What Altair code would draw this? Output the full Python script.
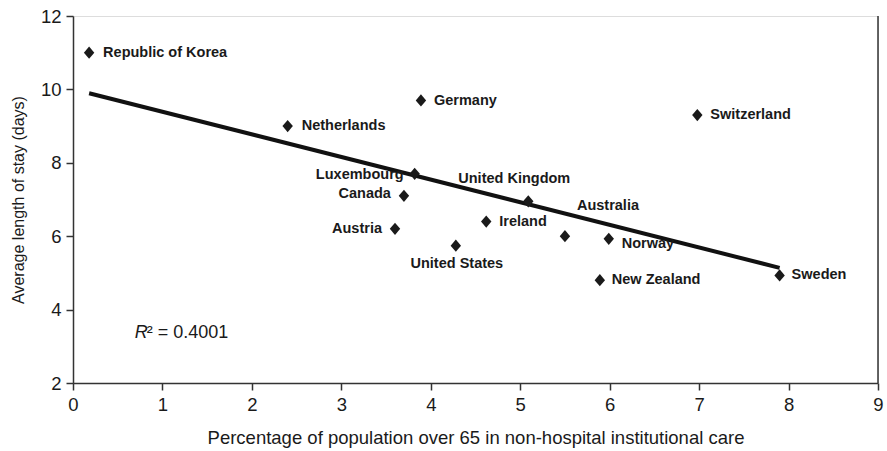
import altair as alt
import pandas as pd

# Country values: share of population over 65 in non-hospital institutional care (%)
# and average hospital length of stay (days)
countries = [
    "Republic of Korea", "Netherlands", "Germany", "Switzerland", "Luxembourg",
    "Canada", "Austria", "United States", "Ireland", "United Kingdom",
    "Australia", "Norway", "New Zealand", "Sweden",
]
pct_over65 = [0.18, 2.4, 3.89, 6.98, 3.82, 3.7, 3.6, 4.28, 4.62, 5.09, 5.5, 5.99, 5.89, 7.9]
avg_stay = [11.0, 9.0, 9.7, 9.3, 7.7, 7.1, 6.2, 5.74, 6.4, 6.95, 6.0, 5.93, 4.8, 4.93]

x_ticks = list(range(0, 10))
y_ticks = [2, 4, 6, 8, 10, 12]

df = pd.DataFrame({"country": countries, "pct": pct_over65, "stay": avg_stay})
single = pd.DataFrame({"row": [0]})

# Where each country's label sits relative to its marker: (align, dx, dy)
label_layout = {
    "Republic of Korea": ("left", 14, 0),
    "Netherlands": ("left", 14, 0),
    "Germany": ("left", 13, 1),
    "Switzerland": ("left", 13, 0),
    "Luxembourg": ("right", -11, 1),
    "Canada": ("right", -13, -2),
    "Austria": ("right", -13, 0),
    "United States": ("center", 1, 18),
    "Ireland": ("left", 13, 0),
    "United Kingdom": ("center", -14, -22),
    "Australia": ("left", 12, -30),
    "Norway": ("left", 13, 5),
    "New Zealand": ("left", 12, 0),
    "Sweden": ("left", 12, 0),
}

FONT = "Liberation Sans"
INK = "#1a1a1a"

x_scale = alt.Scale(domain=[0, 9], nice=False, zero=False)
y_scale = alt.Scale(domain=[2, 12], nice=False, zero=False)

x_enc = alt.X(
    "pct:Q", scale=x_scale,
    axis=alt.Axis(
        values=x_ticks, format="d", grid=False, labelFlush=False,
        title="Percentage of population over 65 in non-hospital institutional care",
        titleFontWeight="normal", titleFontSize=18.5, titleColor=INK, titlePadding=15,
        labelFontSize=18.5, labelColor=INK, labelPadding=5,
        tickSize=7, tickColor="#333", domainColor="#333", domainWidth=1.5, tickWidth=1.5,
    ),
)
y_enc = alt.Y(
    "stay:Q", scale=y_scale,
    axis=alt.Axis(
        values=y_ticks, format="d", grid=False, labelFlush=False,
        title="Average length of stay (days)",
        titleFontWeight="normal", titleFontSize=16, titleColor=INK, titlePadding=14,
        labelFontSize=18.5, labelColor=INK, labelPadding=5,
        tickSize=7, tickColor="#333", domainColor="#333", domainWidth=1.5, tickWidth=1.5,
    ),
)

base = alt.Chart(df)
anno = alt.Chart(single)

points = base.mark_point(
    shape="M-0.85,0L0,-1L0.85,0L0,1Z", size=150, filled=True, opacity=1, color=INK,
).encode(x=x_enc, y=y_enc)

trend = base.transform_regression("pct", "stay").mark_line(
    color="#111", strokeWidth=4,
).encode(x=alt.X("pct:Q", scale=x_scale), y=alt.Y("stay:Q", scale=y_scale))

label_layers = []
for name, (align, dx, dy) in label_layout.items():
    label_layers.append(
        base.transform_filter(alt.datum.country == name).mark_text(
            align=align, baseline="middle", dx=dx, dy=dy,
            font=FONT, fontSize=14.5, fontWeight="bold", color=INK,
        ).encode(
            x=alt.X("pct:Q", scale=x_scale),
            y=alt.Y("stay:Q", scale=y_scale),
            text="country:N",
        )
    )

# Right-hand frame line
frame = anno.mark_rule(color="#333", strokeWidth=1.5).encode(
    x=alt.X(datum=9, scale=x_scale),
    y=alt.Y(datum=2, scale=y_scale),
    y2=alt.Y2(datum=12),
)

# Coefficient of determination annotation
r_label = anno.mark_text(
    align="left", baseline="middle", font=FONT, fontSize=18, fontStyle="italic", color=INK,
).encode(
    x=alt.X(datum=0.69, scale=x_scale),
    y=alt.Y(datum=3.36, scale=y_scale),
    text=alt.value("R"),
)
r_value = anno.mark_text(
    align="left", baseline="middle", dx=12, font=FONT, fontSize=18, color=INK,
).encode(
    x=alt.X(datum=0.69, scale=x_scale),
    y=alt.Y(datum=3.36, scale=y_scale),
    text=alt.value("\u00b2 = 0.4001"),
)

chart = alt.layer(frame, trend, points, *label_layers, r_label, r_value).properties(
    width=805, height=367,
    autosize=alt.AutoSizeParams(type="none"),
    padding={"left": 73, "top": 16, "right": 9, "bottom": 68},
    background="white",
).configure_view(strokeWidth=0).configure(font=FONT)

chart.save("out.html", embed_options={"renderer": "svg", "actions": False})
